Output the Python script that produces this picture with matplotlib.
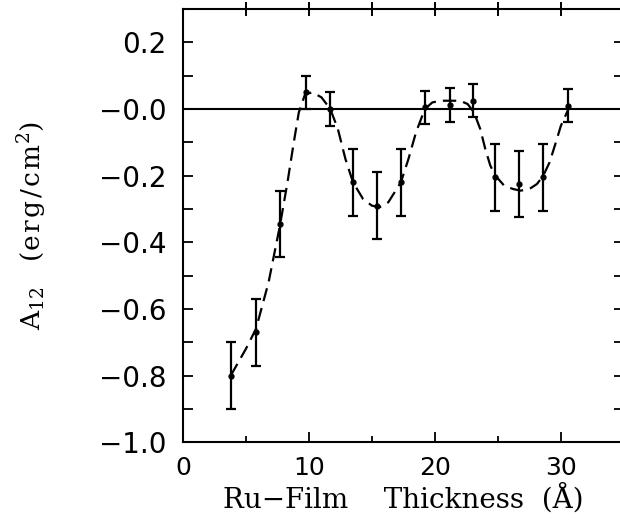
"""
Interlayer coupling A12 vs Ru-film thickness, with a dashed guide curve.
"""
import matplotlib
matplotlib.use("Agg")
import matplotlib.pyplot as plt
from matplotlib.ticker import MultipleLocator

# measured points (Angstrom, erg/cm^2)
thickness = [3.8, 5.8, 7.7, 9.8, 11.7, 13.5, 15.4, 17.3, 19.2, 21.2, 23.0, 24.8, 26.7, 28.6, 30.6]
a12 = [-0.80, -0.67, -0.345, 0.05, 0.0, -0.22, -0.29, -0.22, 0.005, 0.012, 0.025, -0.205, -0.225, -0.205, 0.01]
a12_err = [0.10, 0.10, 0.10, 0.05, 0.05, 0.10, 0.10, 0.10, 0.05, 0.05, 0.05, 0.10, 0.10, 0.10, 0.05]

# dashed guide curve
curve_x = [3.8, 5.0, 5.8, 6.8, 7.7, 8.3, 8.8, 9.2, 9.7, 10.3, 11.0, 11.7, 12.3, 12.9, 13.5,
           14.3, 15.0, 15.6, 16.3, 17.3, 17.9, 18.5, 19.2, 19.8, 20.5, 21.2, 22.0, 22.6,
           23.1, 23.6, 24.0, 24.4, 24.8, 25.5, 26.2, 26.8, 27.5, 28.1, 28.6, 29.1, 29.6,
           30.0, 30.6]
curve_y = [-0.80, -0.72, -0.66, -0.52, -0.35, -0.22, -0.10, -0.01, 0.045, 0.05, 0.035, 0.0,
           -0.06, -0.15, -0.22, -0.27, -0.29, -0.295, -0.28, -0.22, -0.15, -0.07, 0.0, 0.02,
           0.025, 0.025, 0.025, 0.015, -0.01, -0.06, -0.12, -0.17, -0.20, -0.23, -0.24,
           -0.245, -0.24, -0.225, -0.20, -0.16, -0.10, -0.05, 0.0]

ytick_vals = [0.2, 0.0, -0.2, -0.4, -0.6, -0.8, -1.0]
ytick_text = ["0.2", "\u22120.0", "\u22120.2", "\u22120.4", "\u22120.6", "\u22120.8", "\u22121.0"]
xtick_vals = [0, 10, 20, 30]
top_tick_vals = [5, 10, 15, 20, 25, 30]

plt.rcParams["mathtext.fontset"] = "dejavuserif"

fig = plt.figure(figsize=(6.2, 5.22), dpi=100)
ax = fig.add_axes([0.295, 0.153, 0.7113, 0.8295])

ax.axhline(0.0, color="black", linewidth=1.5, zorder=1)
ax.plot(curve_x, curve_y, color="black", linewidth=1.6, dashes=(6, 3.2), zorder=2)
ax.errorbar(thickness, a12, yerr=a12_err, fmt="o", color="black", markersize=3.5,
            elinewidth=1.6, capsize=3.8, capthick=1.6, zorder=3)

ax.set_xlim(0, 35)
ax.set_ylim(-1.0, 0.3)

for sp in ax.spines.values():
    sp.set_linewidth(1.5)

ax.set_yticks(ytick_vals)
ax.set_yticklabels(ytick_text, fontsize=20, family="DejaVu Sans")
ax.yaxis.set_minor_locator(MultipleLocator(0.1))
ax.set_xticks(xtick_vals)
ax.set_xticklabels([str(v) for v in xtick_vals], fontsize=18, family="DejaVu Sans")
ax.xaxis.set_minor_locator(MultipleLocator(5))

ax.tick_params(axis="y", which="both", direction="in", length=7.5, width=1.3,
               right=True, pad=12)
ax.tick_params(axis="x", which="major", direction="in", length=7.5, width=1.3, pad=10)
ax.tick_params(axis="x", which="minor", direction="in", length=4, width=1.3)

# top frame ticks: all the same size, crossing the frame line
ax.plot(top_tick_vals, [1.0] * len(top_tick_vals), transform=ax.get_xaxis_transform(),
        linestyle="none", marker="|", markersize=10, markeredgewidth=1.4,
        color="black", clip_on=False, zorder=5)

ax.set_xlabel("Ru\u2212Film    Thickness  (\u00c5)", fontsize=20,
              family="DejaVu Serif", labelpad=2)
ax.set_ylabel("A$_{12}$   (e\u200ar\u200ag\u200a/\u200ac\u200am$^{2}$)", fontsize=19,
              family="DejaVu Serif", labelpad=36)

fig.savefig("out.png", dpi=100)
